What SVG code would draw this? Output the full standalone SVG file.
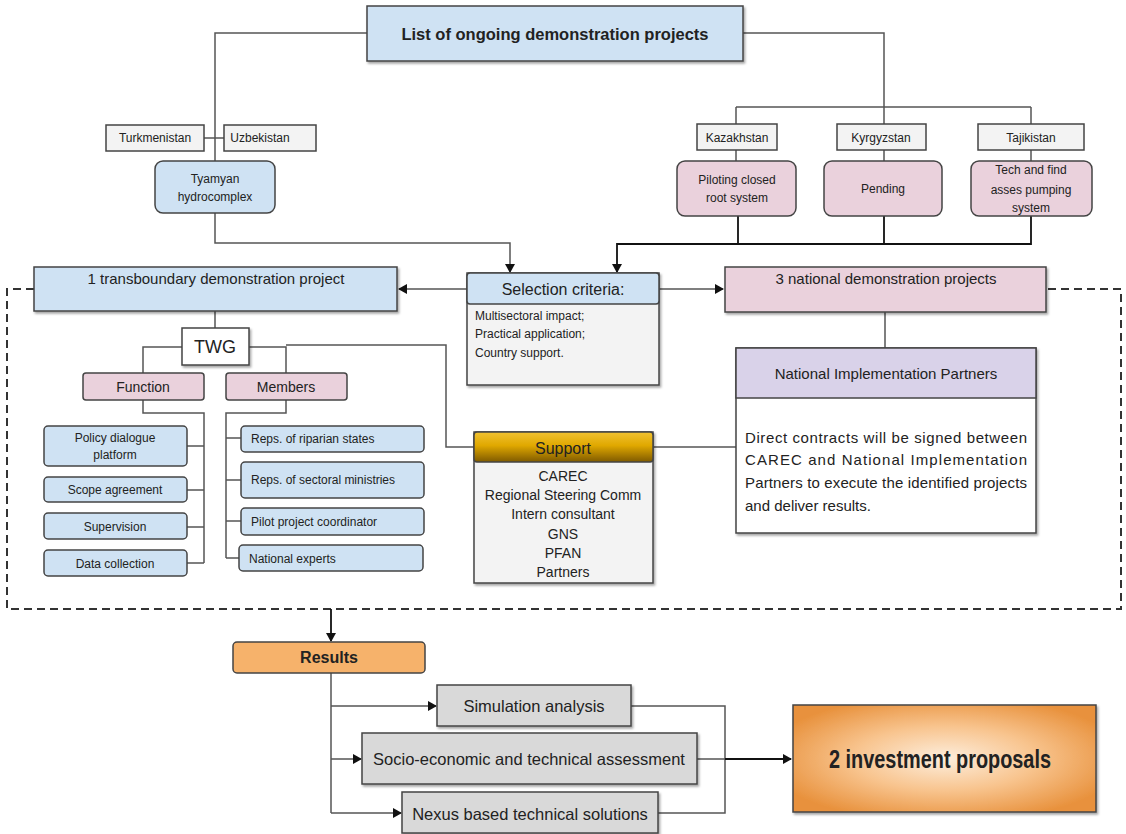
<svg xmlns="http://www.w3.org/2000/svg" width="1126" height="834" viewBox="0 0 1126 834">
<defs>
<filter id="sh" x="-10%" y="-10%" width="130%" height="140%"><feDropShadow dx="1.5" dy="2" stdDeviation="1.2" flood-color="#000" flood-opacity="0.35"/></filter>
<marker id="ar" markerWidth="10" markerHeight="10" refX="8" refY="5" orient="auto" markerUnits="userSpaceOnUse"><path d="M0,0 L9,5 L0,10 z" fill="#111"/></marker>
<linearGradient id="gold" x1="0" y1="0" x2="0" y2="1"><stop offset="0" stop-color="#f1c232"/><stop offset="0.45" stop-color="#e0a800"/><stop offset="1" stop-color="#7f5a00"/></linearGradient>
<radialGradient id="inv" cx="0.5" cy="0.5" r="0.6"><stop offset="0" stop-color="#fdeedd"/><stop offset="0.5" stop-color="#f8c48e"/><stop offset="1" stop-color="#e8913c"/></radialGradient>
<style>
text{font-family:"Liberation Sans",Arial,sans-serif;fill:#222;}
.c{text-anchor:middle;}
.blue{fill:#cfe2f3;stroke:#444;stroke-width:1.5;}
.pink{fill:#ead1dc;stroke:#444;stroke-width:1.5;}
.grey{fill:#f3f3f3;stroke:#444;stroke-width:1.5;}
.dgrey{fill:#d9d9d9;stroke:#444;stroke-width:1.5;}
.white{fill:#fff;stroke:#444;stroke-width:1.5;}
.ln{fill:none;stroke:#555;stroke-width:1.5;}
.lk{fill:none;stroke:#111;stroke-width:1.8;}
.s12{font-size:12px;}
.s14{font-size:14px;}
.s15{font-size:15px;}
.s16{font-size:16.5px;}
</style>
</defs>

<g id="connectors">
<path class="ln" d="M367,33 H215 V161"/>
<path class="ln" d="M204,138 H224"/>
<path class="ln" d="M215,213 V243 H510 V272" marker-end="url(#ar)"/>
<path class="ln" d="M743,33 H884 V107"/>
<path class="ln" d="M736,107 H1031 M736,107 V124 M884,107 V124 M1031,107 V124"/>
<path class="ln" d="M736,150 V161 M884,150 V161 M1031,150 V161"/>
<path class="lk" d="M738,216 V244 M884,216 V244 M1031,216 V244 H617 V272" marker-end="url(#ar)"/>
<path class="ln" d="M467,289 H399" marker-end="url(#ar)"/>
<path class="ln" d="M659,289 H723" marker-end="url(#ar)"/>
<path d="M34,289 H7 V609 H1121 V289 H1046" fill="none" stroke="#333" stroke-width="2" stroke-dasharray="8,5"/>
<path class="ln" d="M215,311 V328"/>
<path class="ln" d="M182,347 H143 V373 M249,347 H286 V373"/>
<path class="ln" d="M286,345 H446 V447 H474"/>
<path class="ln" d="M143,400 V413 H204 V563"/>
<path class="ln" d="M187,446 H204 M187,490 H204 M187,527 H204 M187,563 H204"/>
<path class="ln" d="M286,400 V413 H226 V558"/>
<path class="ln" d="M226,438 H241 M226,480 H241 M226,521 H241 M226,558 H239"/>
<path class="ln" d="M885,312 V348"/>
<path class="ln" d="M653,447 H736"/>
<path class="lk" d="M331,609 V641" marker-end="url(#ar)"/>
<path class="ln" d="M331,673 V813"/>
<path class="ln" d="M331,706 H436" marker-end="url(#ar)"/>
<path class="ln" d="M331,759 H361" marker-end="url(#ar)"/>
<path class="ln" d="M331,813 H401" marker-end="url(#ar)"/>
<path class="ln" d="M631,706 H725 V813 H658"/>
<path class="ln" d="M697,759 H725"/>
<path class="lk" d="M725,759 H791" stroke-width="2.2" marker-end="url(#ar)"/>
</g>

<g id="title"><rect class="blue" x="367" y="6" width="376" height="55" filter="url(#sh)"/><text class="c" x="555" y="40" font-size="16.5" font-weight="bold">List of ongoing demonstration projects</text></g>

<g id="turkmenistan"><rect class="grey" x="106" y="125" width="98" height="26"/><text class="c s12" x="155" y="142">Turkmenistan</text></g>
<g id="uzbekistan"><rect class="grey" x="224" y="125" width="92" height="26"/><text class="c s12" x="260" y="142">Uzbekistan</text></g>
<g id="tyamyan"><rect class="blue" x="155" y="161" width="120" height="52" rx="8"/><text class="c s12" x="215" y="183">Tyamyan</text><text class="c s12" x="215" y="201">hydrocomplex</text></g>

<g id="kazakhstan"><rect class="grey" x="697" y="124" width="80" height="26"/><text class="c s12" x="737" y="142">Kazakhstan</text></g>
<g id="kyrgyzstan"><rect class="grey" x="837" y="124" width="89" height="26"/><text class="c s12" x="881" y="142">Kyrgyzstan</text></g>
<g id="tajikistan"><rect class="grey" x="978" y="124" width="106" height="26"/><text class="c s12" x="1031" y="142">Tajikistan</text></g>
<g id="piloting"><rect class="pink" x="677" y="161" width="119" height="55" rx="8"/><text class="c s12" x="737" y="184">Piloting closed</text><text class="c s12" x="737" y="202">root system</text></g>
<g id="pending"><rect class="pink" x="824" y="161" width="118" height="55" rx="8"/><text class="c s12" x="883" y="193">Pending</text></g>
<g id="tech"><rect class="pink" x="971" y="161" width="121" height="55" rx="8"/><text class="c s12" x="1031" y="174">Tech and find</text><text class="c s12" x="1031" y="194">asses pumping</text><text class="c s12" x="1031" y="212">system</text></g>

<g id="transboundary"><rect class="blue" x="34" y="267" width="363" height="44" filter="url(#sh)"/><text class="c s15" x="216" y="284">1 transboundary demonstration project</text></g>

<g id="selection"><rect class="grey" x="467" y="273" width="192" height="112" filter="url(#sh)"/><rect class="blue" x="467" y="273" width="192" height="31" rx="3"/><text class="c" x="563" y="295" font-size="16">Selection criteria:</text><text class="s12" x="475" y="320">Multisectoral impact;</text><text class="s12" x="475" y="338">Practical application;</text><text class="s12" x="475" y="357">Country support.</text></g>

<g id="national"><rect class="pink" x="725" y="267" width="321" height="45" filter="url(#sh)"/><text class="c s15" x="886" y="284">3 national demonstration projects</text></g>

<g id="twg"><rect class="white" x="182" y="328" width="67" height="37" filter="url(#sh)"/><text class="c" x="215" y="353" font-size="18">TWG</text></g>
<g id="function"><rect class="pink" x="83" y="373" width="121" height="27" rx="3"/><text class="c s14" x="143" y="392">Function</text></g>
<g id="members"><rect class="pink" x="226" y="373" width="121" height="27" rx="3"/><text class="c s14" x="286" y="392">Members</text></g>

<g id="policy"><rect class="blue" x="44" y="426" width="143" height="40" rx="4"/><text class="c s12" x="115" y="442">Policy dialogue</text><text class="c s12" x="115" y="459">platform</text></g>
<g id="scope"><rect class="blue" x="44" y="477" width="143" height="25" rx="4"/><text class="c s12" x="115" y="494">Scope agreement</text></g>
<g id="supervision"><rect class="blue" x="44" y="513" width="143" height="26" rx="4"/><text class="c s12" x="115" y="531">Supervision</text></g>
<g id="data"><rect class="blue" x="44" y="550" width="143" height="26" rx="4"/><text class="c s12" x="115" y="568">Data collection</text></g>

<g id="riparian"><rect class="blue" x="241" y="426" width="183" height="26" rx="4"/><text class="s12" x="251" y="443">Reps. of riparian states</text></g>
<g id="sectoral"><rect class="blue" x="241" y="462" width="183" height="36" rx="4"/><text class="s12" x="251" y="484">Reps. of sectoral ministries</text></g>
<g id="pilot"><rect class="blue" x="241" y="508" width="183" height="27" rx="4"/><text class="s12" x="251" y="526">Pilot project coordinator</text></g>
<g id="experts"><rect class="blue" x="239" y="545" width="184" height="26" rx="4"/><text class="s12" x="249" y="563">National experts</text></g>

<g id="support"><rect class="grey" x="474" y="432" width="179" height="151" filter="url(#sh)"/><rect x="474" y="432" width="179" height="30" rx="3" fill="url(#gold)" stroke="#444" stroke-width="1.5"/><text class="c" x="563" y="454" font-size="16">Support</text>
<text class="c s14" x="563" y="481">CAREC</text><text class="c s14" x="563" y="500">Regional Steering Comm</text><text class="c s14" x="563" y="519">Intern consultant</text><text class="c s14" x="563" y="539">GNS</text><text class="c s14" x="563" y="558">PFAN</text><text class="c s14" x="563" y="577">Partners</text></g>

<g id="nip"><rect class="white" x="736" y="348" width="300" height="185" filter="url(#sh)"/><rect x="736" y="348" width="300" height="50" fill="#d9d2e9" stroke="#444" stroke-width="1.5"/><text class="c s15" x="886" y="379">National Implementation Partners</text>
<text class="s15" x="745" y="443" textLength="282" lengthAdjust="spacing">Direct contracts will be signed between</text>
<text class="s15" x="745" y="465" textLength="282" lengthAdjust="spacing">CAREC and National Implementation</text>
<text class="s15" x="745" y="488" textLength="282" lengthAdjust="spacing">Partners to execute the identified projects</text>
<text class="s15" x="745" y="511">and deliver results.</text></g>

<g id="results"><rect x="233" y="642" width="192" height="31" rx="4" fill="#f6b26b" stroke="#444" stroke-width="1.5"/><text class="c" x="329" y="663" font-size="16" font-weight="bold">Results</text></g>
<g id="simulation"><rect class="dgrey" x="437" y="685" width="194" height="41" filter="url(#sh)"/><text class="c s16" x="534" y="712">Simulation analysis</text></g>
<g id="socio"><rect class="dgrey" x="362" y="733" width="335" height="51" filter="url(#sh)"/><text class="c s16" x="529" y="765">Socio-economic and technical assessment</text></g>
<g id="nexus"><rect class="dgrey" x="402" y="792" width="256" height="41" filter="url(#sh)"/><text class="c s16" x="530" y="820">Nexus based technical solutions</text></g>
<g id="investment"><rect x="793" y="705" width="303" height="107" fill="url(#inv)" stroke="#444" stroke-width="1.5" filter="url(#sh)"/><text class="c" x="940" y="768" font-size="25" font-weight="bold" textLength="222" lengthAdjust="spacingAndGlyphs">2 investment proposals</text></g>
</svg>
